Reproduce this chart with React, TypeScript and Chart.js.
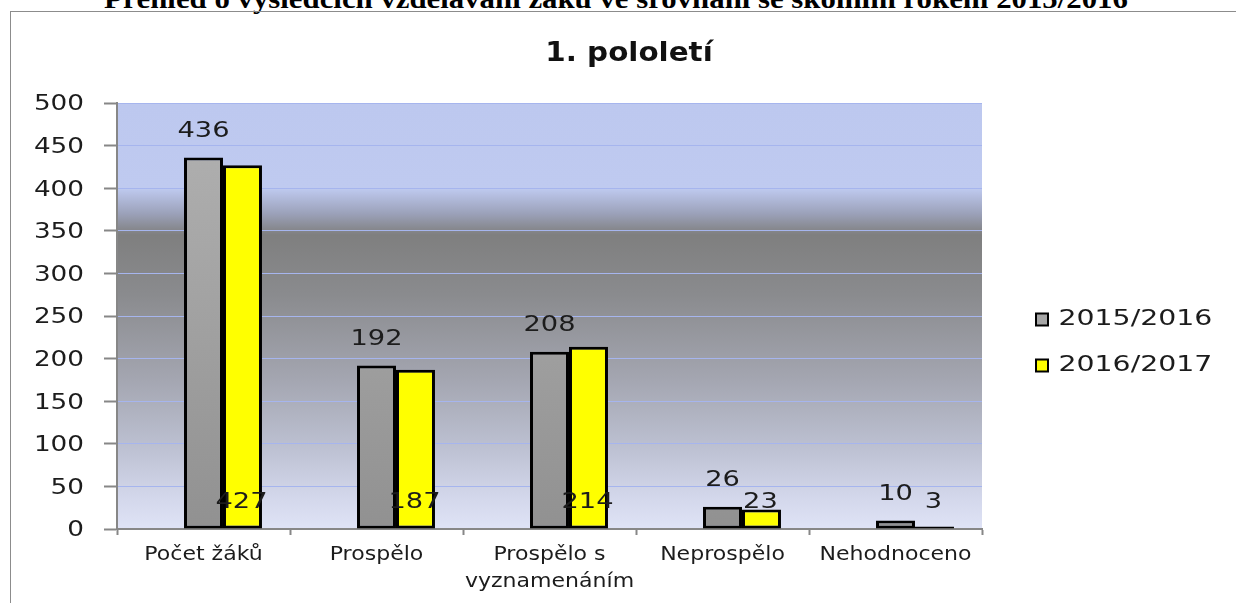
import React, { useEffect, useRef } from 'react';
import { Chart, registerables } from 'chart.js';

Chart.register(...registerables);

// ---------- data ----------
const HEADING = 'Přehled o výsledcích vzdělávání žáků ve srovnání se školním rokem 2015/2016';
const TITLE = '1. pololetí';
const CATEGORIES: (string | string[])[] = [
  'Počet žáků',
  'Prospělo',
  ['Prospělo s', 'vyznamenáním'],
  'Neprospělo',
  'Nehodnoceno',
];
const SERIES_NAMES = ['2015/2016', '2016/2017'];
const VALUES_2015 = [436, 192, 208, 26, 10];
const VALUES_2016 = [427, 187, 214, 23, 3];
// Excel chart had an empty leading series that shifts the bar pair to the right
const EMPTY_SERIES = [null, null, null, null, null];
const Y_MIN = 0;
const Y_MAX = 500;
const Y_STEP = 50;
// value level at which the 2016/2017 labels sit in the original
const LABEL_LEVEL_2016 = 31;

// ---------- styles ----------
const FONT = 'DejaVu Sans';
const TEXT = '#1c1c1c';
const YELLOW = '#ffff00';
const LEGEND_FILLS = ['#a6a6a6', YELLOW];
const AXIS = '#878787';
const GRID = '#a6b5ee';
const CANVAS_W = 1236;
const CANVAS_H = 591;
const LEGEND_X = 1025; // canvas x of legend boxes
const LEGEND_Y = 297; // canvas y of first legend row

// draws text of a chart element stretched horizontally around its anchor
function withStretch(obj: any, method: string, sx: number, dy = 0) {
  if (!obj || typeof obj[method] !== 'function') return;
  const key = '__st_' + method;
  if (obj[key]) return;
  const orig = obj[method];
  obj[method] = function (...args: any[]) {
    const ctx = this.ctx;
    const native = CanvasRenderingContext2D.prototype.fillText;
    ctx.fillText = function (text: string, x: number, y: number, mw?: number) {
      ctx.save();
      ctx.translate(x, y + dy);
      ctx.scale(sx, 1);
      if (mw === undefined || mw === null) native.call(ctx, text, 0, 0);
      else native.call(ctx, text, 0, 0, mw / sx);
      ctx.restore();
    };
    try {
      return orig.apply(this, args);
    } finally {
      delete ctx.fillText;
    }
  };
  obj[key] = true;
}

const layoutPlugin = {
  id: 'layoutTweaks',
  afterLayout(chart: any) {
    withStretch(chart.scales.y, 'drawLabels', 1.25, 2);
    withStretch(chart.scales.x, 'drawLabels', 1.16, 0);
    withStretch(chart.titleBlock, 'draw', 1.13, 0);
    withStretch(chart.legend, 'draw', 1.35, 0);
    const tb = chart.titleBlock;
    if (tb) {
      tb.left = 0;
      tb.right = chart.width;
      tb.width = chart.width;
    }
    const lg = chart.legend;
    if (lg && lg.columnSizes && lg.columnSizes.length) {
      const pad = lg.options.labels.padding;
      const colH = lg.columnSizes[0].height;
      lg.top = LEGEND_Y - pad;
      lg.bottom = LEGEND_Y + colH;
      lg.height = lg.bottom - lg.top;
      lg.left = LEGEND_X - pad;
      lg.right = chart.width;
      lg.width = lg.right - lg.left;
    }
  },
};

const backgroundPlugin = {
  id: 'plotBackground',
  beforeDraw(chart: any) {
    const { ctx, chartArea: a } = chart;
    if (!a) return;
    const g = ctx.createLinearGradient(0, a.top, 0, a.bottom);
    g.addColorStop(0, '#bdc8ef');
    g.addColorStop(0.2, '#bfcaf0');
    g.addColorStop(0.26, '#9ba1b9');
    g.addColorStop(0.3, '#848589');
    g.addColorStop(0.31, '#7f7f7f');
    g.addColorStop(0.45, '#8a8b8e');
    g.addColorStop(0.65, '#a4a6b1');
    g.addColorStop(0.8, '#bbbfd0');
    g.addColorStop(0.92, '#d2d6ea');
    g.addColorStop(1, '#dfe3f6');
    ctx.save();
    ctx.fillStyle = g;
    ctx.fillRect(a.left, a.top, a.right - a.left, a.bottom - a.top);
    ctx.restore();
  },
};

function stretchedText(ctx: any, text: string, x: number, y: number, sx: number) {
  ctx.save();
  ctx.translate(x, y);
  ctx.scale(sx, 1);
  ctx.fillText(text, 0, 0);
  ctx.restore();
}

const labelsPlugin = {
  id: 'valueLabels',
  afterDatasetsDraw(chart: any) {
    const ctx = chart.ctx;
    ctx.save();
    ctx.font = `21px "${FONT}"`;
    ctx.fillStyle = TEXT;
    ctx.textAlign = 'center';
    ctx.textBaseline = 'middle';
    const m1 = chart.getDatasetMeta(1);
    m1.data.forEach((bar: any, i: number) => {
      stretchedText(ctx, String(VALUES_2015[i]), bar.x, bar.y - 26, 1.3);
    });
    const m2 = chart.getDatasetMeta(2);
    const yl = chart.scales.y.getPixelForValue(LABEL_LEVEL_2016);
    m2.data.forEach((bar: any, i: number) => {
      stretchedText(ctx, String(VALUES_2016[i]), bar.x - 1, yl, 1.3);
    });
    ctx.restore();
  },
};

function grayFill(context: any) {
  const chart = context.chart;
  const a = chart.chartArea;
  if (!a) return LEGEND_FILLS[0];
  const g = chart.ctx.createLinearGradient(0, a.top, 0, a.bottom);
  g.addColorStop(0, '#b2b2b2');
  g.addColorStop(1, '#919191');
  return g;
}

export default function App() {
  const ref = useRef<HTMLCanvasElement>(null);

  useEffect(() => {
    if (!ref.current) return;
    const chart = new Chart(ref.current, {
      type: 'bar',
      data: {
        labels: CATEGORIES as any,
        datasets: [
          { label: '', data: EMPTY_SERIES as any, backgroundColor: 'transparent' },
          {
            label: SERIES_NAMES[0],
            data: VALUES_2015,
            backgroundColor: grayFill as any,
            borderColor: '#000',
            borderWidth: 3,
            borderSkipped: false,
          },
          {
            label: SERIES_NAMES[1],
            data: VALUES_2016,
            backgroundColor: YELLOW,
            borderColor: '#000',
            borderWidth: 3,
            borderSkipped: false,
          },
        ],
      },
      options: {
        responsive: false,
        animation: false,
        datasets: { bar: { categoryPercentage: 0.676, barPercentage: 1 } },
        layout: { padding: { left: 0, right: CANVAS_W - 971 - 150, top: 0, bottom: 0 } },
        scales: {
          x: {
            grid: {
              display: true,
              drawOnChartArea: false,
              drawTicks: true,
              tickLength: 6,
              tickColor: AXIS,
              tickWidth: 2,
              offset: true,
            },
            border: { display: true, color: AXIS, width: 2 },
            ticks: {
              color: TEXT,
              font: { family: FONT, size: 19, lineHeight: 1.42 },
              padding: 7,
              maxRotation: 0,
              autoSkip: false,
            },
            afterFit: (s: any) => {
              s.height = 74;
            },
          },
          y: {
            min: Y_MIN,
            max: Y_MAX,
            ticks: {
              stepSize: Y_STEP,
              color: TEXT,
              font: { family: FONT, size: 21 },
              padding: 20,
            },
            grid: {
              color: GRID,
              lineWidth: 1,
              tickLength: 13,
              tickColor: AXIS,
              tickWidth: 2,
            },
            border: { display: true, color: AXIS, width: 2 },
            afterFit: (s: any) => {
              s.width = 106;
            },
          },
        },
        plugins: {
          title: {
            display: true,
            text: TITLE,
            color: '#111',
            font: { family: FONT, size: 26, weight: 'bold', lineHeight: 1.2 },
            padding: { top: 27, bottom: 32.8 },
          },
          legend: {
            position: 'right',
            maxWidth: 150,
            labels: {
              boxWidth: 12,
              boxHeight: 12,
              padding: 25,
              color: TEXT,
              font: { family: FONT, size: 21 },
              generateLabels: () =>
                SERIES_NAMES.map((t, i) => ({
                  text: t,
                  fillStyle: LEGEND_FILLS[i],
                  strokeStyle: '#000',
                  lineWidth: 2,
                  hidden: false,
                  datasetIndex: i + 1,
                  fontColor: TEXT,
                })),
            },
          },
          tooltip: { enabled: false },
        },
      },
      plugins: [layoutPlugin, backgroundPlugin, labelsPlugin],
    } as any);
    return () => chart.destroy();
  }, []);

  return (
    <div
      style={{
        position: 'absolute',
        left: 0,
        top: 0,
        width: 1236,
        height: 603,
        overflow: 'hidden',
        background: '#fff',
      }}
    >
      <div
        style={{
          position: 'absolute',
          left: 0,
          top: -15,
          width: 1232,
          textAlign: 'center',
          fontFamily: '"Liberation Serif", serif',
          fontWeight: 'bold',
          fontSize: 28,
          lineHeight: '28px',
          whiteSpace: 'nowrap',
          color: '#000',
          transform: 'scaleX(1.1)',
          transformOrigin: '616px 0',
        }}
      >
        {HEADING}
      </div>
      <div
        style={{
          position: 'absolute',
          left: 10,
          top: 11,
          width: 1260,
          height: 640,
          border: '1px solid #8c8c8c',
        }}
      >
        <canvas
          ref={ref}
          width={CANVAS_W}
          height={CANVAS_H}
          style={{ position: 'absolute', left: 0, top: 0 }}
        />
      </div>
    </div>
  );
}
